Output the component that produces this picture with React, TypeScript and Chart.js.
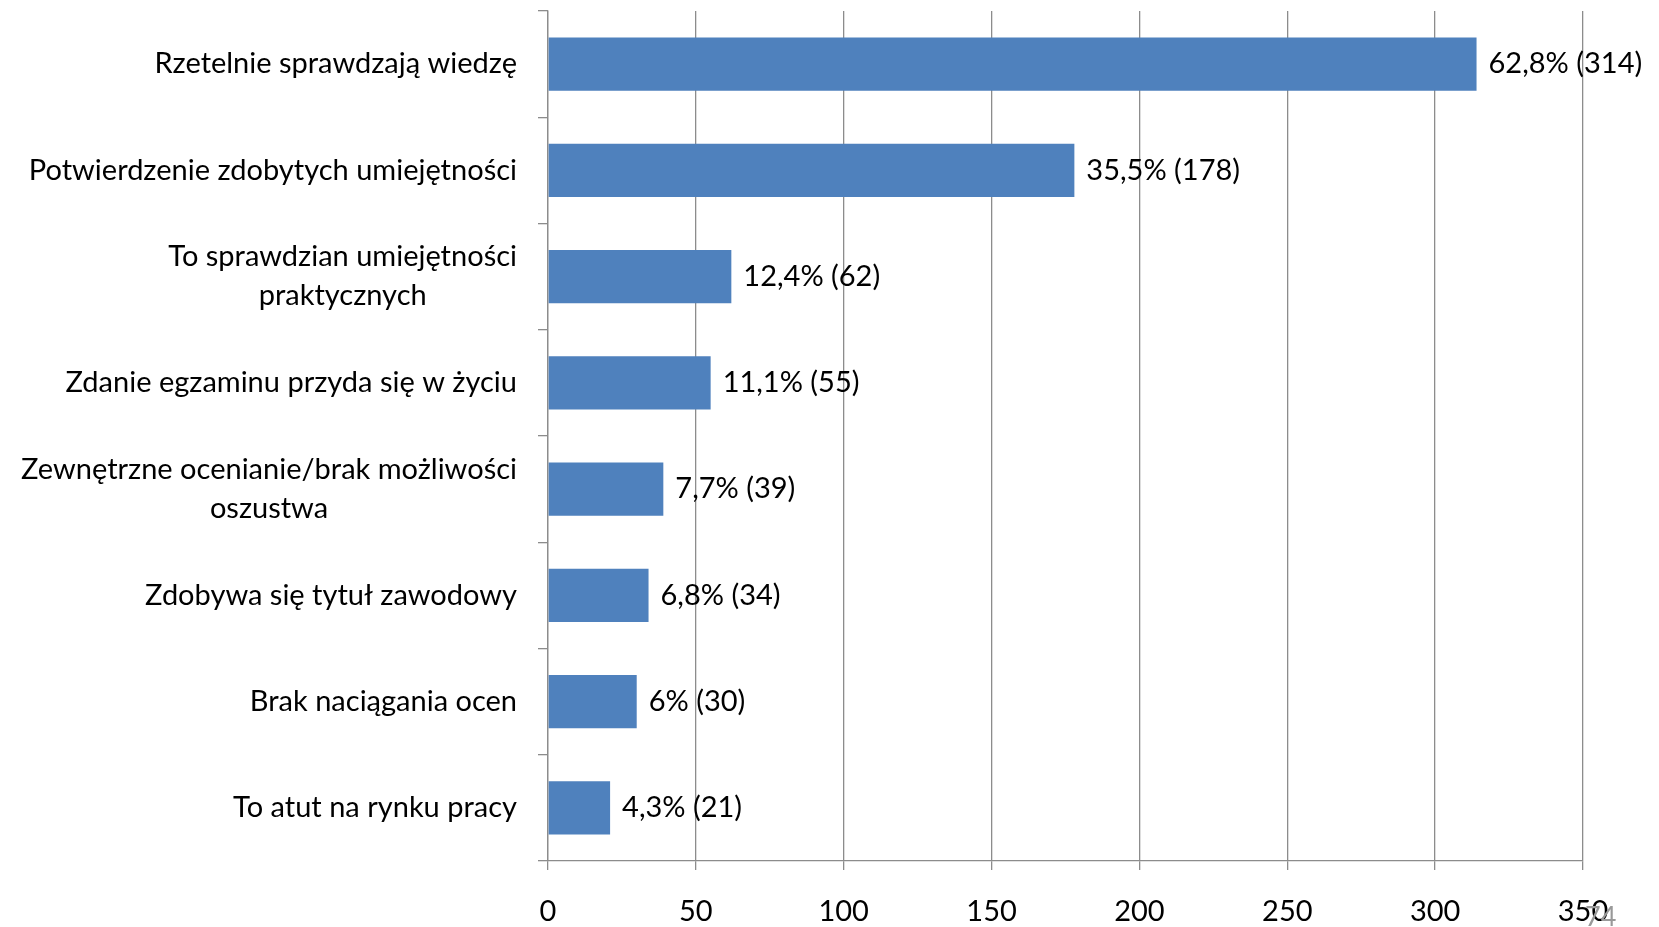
import React, { useEffect, useRef } from "react";
import { Chart, registerables } from "chart.js";

Chart.register(...registerables);

const categories: string[][] = [
  ["Rzetelnie sprawdzają wiedzę"],
  ["Potwierdzenie zdobytych umiejętności"],
  ["To sprawdzian umiejętności", "praktycznych"],
  ["Zdanie egzaminu przyda się w życiu"],
  ["Zewnętrzne ocenianie/brak możliwości", "oszustwa"],
  ["Zdobywa się tytuł zawodowy"],
  ["Brak naciągania ocen"],
  ["To atut na rynku pracy"],
];
const counts = [314, 178, 62, 55, 39, 34, 30, 21];
const percents = ["62,8%", "35,5%", "12,4%", "11,1%", "7,7%", "6,8%", "6%", "4,3%"];
const xTicks = [0, 50, 100, 150, 200, 250, 300, 350];

const FONT = "Lato, 'Noto Sans', sans-serif";
const FS = 29;
const GRID = "#8c8c8c";

const valueLabels = {
  id: "valueLabels",
  afterDatasetsDraw(chart: any) {
    const ctx = chart.ctx;
    const meta = chart.getDatasetMeta(0);
    ctx.save();
    ctx.font = `${FS}px ${FONT}`;
    ctx.fillStyle = "#000";
    ctx.textAlign = "left";
    ctx.textBaseline = "middle";
    meta.data.forEach((bar: any, i: number) => {
      ctx.fillText(`${percents[i]} (${counts[i]})`, bar.x + 12, bar.y);
    });
    ctx.restore();
  },
};

const catLabels = {
  id: "catLabels",
  afterDraw(chart: any) {
    const ctx = chart.ctx;
    const y = chart.scales.y;
    const right = chart.chartArea.left - 31;
    const lh = 39;
    ctx.save();
    ctx.font = `${FS}px ${FONT}`;
    ctx.fillStyle = "#000";
    ctx.textAlign = "center";
    ctx.textBaseline = "middle";
    categories.forEach((lines, i) => {
      const cy = y.getPixelForTick(i);
      const w = Math.max(...lines.map((l) => ctx.measureText(l).width));
      const cx = right - w / 2;
      const start = cy - ((lines.length - 1) * lh) / 2;
      lines.forEach((l, j) => ctx.fillText(l, cx, start + j * lh));
    });
    ctx.restore();
  },
};

export default function App() {
  const ref = useRef<HTMLCanvasElement | null>(null);
  useEffect(() => {
    if (!ref.current) return;
    const chart = new Chart(ref.current, {
      type: "bar",
      data: {
        labels: categories.map((c) => c.join(" ")),
        datasets: [
          {
            data: counts,
            backgroundColor: "#4f81bd",
            borderWidth: 0,
            categoryPercentage: 1,
            barPercentage: 0.5,
          },
        ],
      },
      options: {
        indexAxis: "y",
        animation: false,
        responsive: true,
        maintainAspectRatio: false,
        layout: { padding: { top: 11, right: 76, left: 0, bottom: 0 } },
        plugins: { legend: { display: false }, tooltip: { enabled: false } },
        scales: {
          x: {
            min: 0,
            max: 350,
            afterBuildTicks: (s: any) => {
              s.ticks = xTicks.map((v) => ({ value: v }));
            },
            afterFit: (s: any) => {
              s.height = 66;
            },
            grid: {
              color: GRID,
              lineWidth: 1.3,
              drawTicks: true,
              tickLength: 9,
            },
            border: { color: GRID, width: 1.3 },
            ticks: {
              color: "#000",
              font: { family: FONT, size: FS },
              padding: 24,
              maxRotation: 0,
            },
          },
          y: {
            afterFit: (s: any) => {
              s.width = 548;
            },
            grid: {
              offset: true,
              drawOnChartArea: false,
              drawTicks: true,
              tickLength: 10,
              color: GRID,
              lineWidth: 1.3,
            },
            border: { color: GRID, width: 1.3 },
            ticks: { display: false },
          },
        },
      },
      plugins: [valueLabels, catLabels],
    });
    return () => chart.destroy();
  }, []);
  return (
    <div style={{ position: "fixed", left: 0, top: 0, width: 1659, height: 927, background: "#fff", overflow: "hidden" }}>
      <canvas ref={ref} />
      <div
        style={{
          position: "absolute",
          left: 1585,
          top: 902,
          fontFamily: FONT,
          fontSize: 27,
          lineHeight: "27px",
          color: "#999",
        }}
      >
        74
      </div>
    </div>
  );
}
